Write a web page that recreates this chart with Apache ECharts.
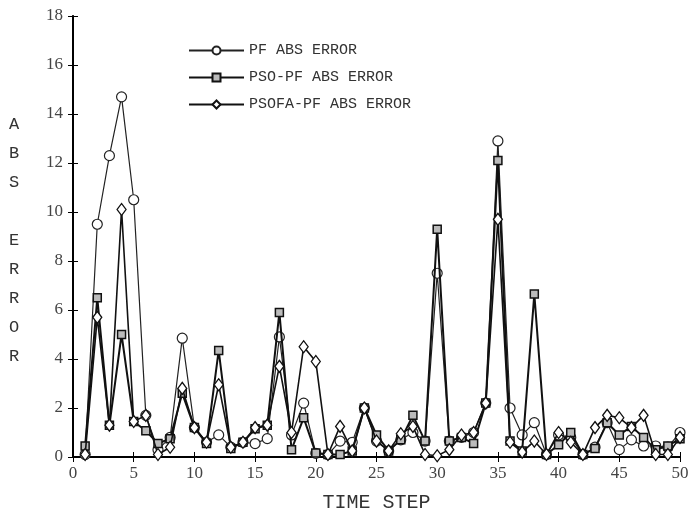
<html>
<head>
<meta charset="UTF-8">
<script src="https://cdn.jsdelivr.net/npm/echarts@6/dist/echarts.min.js"></script>
</head>
<body style="margin:0">
<div id="container" style="width:692px;height:518px"></div>
<script type="text/javascript">
var steps = [1,2,3,4,5,6,7,8,9,10,11,12,13,14,15,16,17,18,19,20,21,22,23,24,25,
             26,27,28,29,30,31,32,33,34,35,36,37,38,39,40,41,42,43,44,45,46,47,48,49,50];

var pfErr = [0.1,9.5,12.3,14.7,10.5,1.7,0.3,0.8,4.85,1.2,0.6,0.9,0.4,0.6,0.55,0.75,4.9,0.9,2.2,0.15,
             0.1,0.65,0.6,2.0,0.65,0.25,0.7,1.0,0.65,7.5,0.65,0.8,1.0,2.2,12.9,2.0,0.9,1.4,0.1,0.9,
             0.8,0.1,0.4,1.4,0.3,0.7,0.45,0.45,0.4,1.0];
var psoErr = [0.45,6.5,1.3,5.0,1.45,1.07,0.55,0.75,2.6,1.2,0.55,4.35,0.35,0.6,1.15,1.3,5.9,0.3,1.6,0.16,
              0.1,0.1,0.25,2.0,0.9,0.25,0.7,1.7,0.65,9.3,0.65,0.8,0.55,2.2,12.1,0.65,0.25,6.65,0.1,0.5,
              1.0,0.1,0.35,1.4,0.9,1.25,0.8,0.3,0.45,0.75];
var psofaErr = [0.1,5.7,1.3,10.1,1.45,1.7,0.1,0.4,2.8,1.2,0.6,2.95,0.4,0.6,1.2,1.3,3.7,1.0,4.5,3.9,
                0.1,1.25,0.25,2.0,0.65,0.25,0.95,1.25,0.1,0.05,0.3,0.9,1.0,2.2,9.7,0.6,0.2,0.65,0.1,1.0,
                0.6,0.1,1.2,1.7,1.6,1.2,1.7,0.1,0.1,0.8];

var names = ['PF ABS ERROR', 'PSO-PF ABS ERROR', 'PSOFA-PF ABS ERROR'];

function pairs(vals) {
    var out = [];
    for (var i = 0; i < steps.length; i++) out.push([steps[i], vals[i]]);
    return out;
}

var myChart = echarts.init(document.getElementById('container'));
var labelFont = {color: '#444', fontFamily: 'Liberation Serif', fontSize: 17};
var axisLine = {lineStyle: {color: '#000', width: 2}};

var option = {
    backgroundColor: '#fff',
    animation: false,
    grid: {left: 73, right: 12, top: 16, bottom: 59},
    legend: {
        left: 183, top: 38, orient: 'vertical',
        itemWidth: 55, itemHeight: 10, itemGap: 12,
        textStyle: {fontFamily: 'Liberation Mono', fontSize: 15, color: '#333'},
        data: names
    },
    graphic: [{
        type: 'text', left: 9, top: 110,
        style: {
            text: 'A\nB\nS\n\nE\nR\nR\nO\nR',
            font: '17px "Liberation Mono"', fill: '#333', lineHeight: 29
        }
    }],
    xAxis: [{
        type: 'value', min: 0, max: 50, interval: 5,
        name: 'TIME STEP', nameLocation: 'middle', nameGap: 36,
        nameTextStyle: {fontFamily: 'Liberation Mono', fontSize: 20, color: '#333'},
        axisLine: axisLine,
        axisTick: {inside: true, length: 5, lineStyle: {color: '#000'}},
        axisLabel: labelFont,
        splitLine: {show: false}
    }, {
        type: 'value', min: 0, max: 50, interval: 5, position: 'top',
        axisLine: {lineStyle: {color: '#000', width: 1.5}},
        axisTick: {inside: true, length: 5, lineStyle: {color: '#000'}},
        axisLabel: {show: false}, splitLine: {show: false}
    }],
    yAxis: [{
        type: 'value', min: 0, max: 18, interval: 2,
        axisLine: axisLine,
        axisTick: {inside: true, length: 5, lineStyle: {color: '#000'}},
        axisLabel: Object.assign({margin: 10}, labelFont),
        splitLine: {show: false}
    }, {
        type: 'value', min: 0, max: 18, interval: 2, position: 'right',
        axisLine: {show: true, lineStyle: {color: '#000', width: 1.5}},
        axisTick: {show: true, inside: true, length: 5, lineStyle: {color: '#000'}},
        axisLabel: {show: false}, splitLine: {show: false}
    }],
    series: [{
        name: names[0], type: 'line', data: pairs(pfErr),
        symbol: 'circle', symbolSize: 10,
        lineStyle: {color: '#222', width: 1.2},
        itemStyle: {color: '#fff', borderColor: '#222', borderWidth: 1.2},
        z: 3
    }, {
        name: names[1], type: 'line', data: pairs(psoErr),
        symbol: 'rect', symbolSize: 8,
        lineStyle: {color: '#111', width: 2},
        itemStyle: {color: '#bbb', borderColor: '#111', borderWidth: 1.5},
        z: 4
    }, {
        name: names[2], type: 'line', data: pairs(psofaErr),
        symbol: 'diamond', symbolSize: [9, 12],
        lineStyle: {color: '#111', width: 1.6},
        itemStyle: {color: '#fff', borderColor: '#111', borderWidth: 1.3},
        z: 5
    }]
};
myChart.setOption(option);
</script>
</body>
</html>
